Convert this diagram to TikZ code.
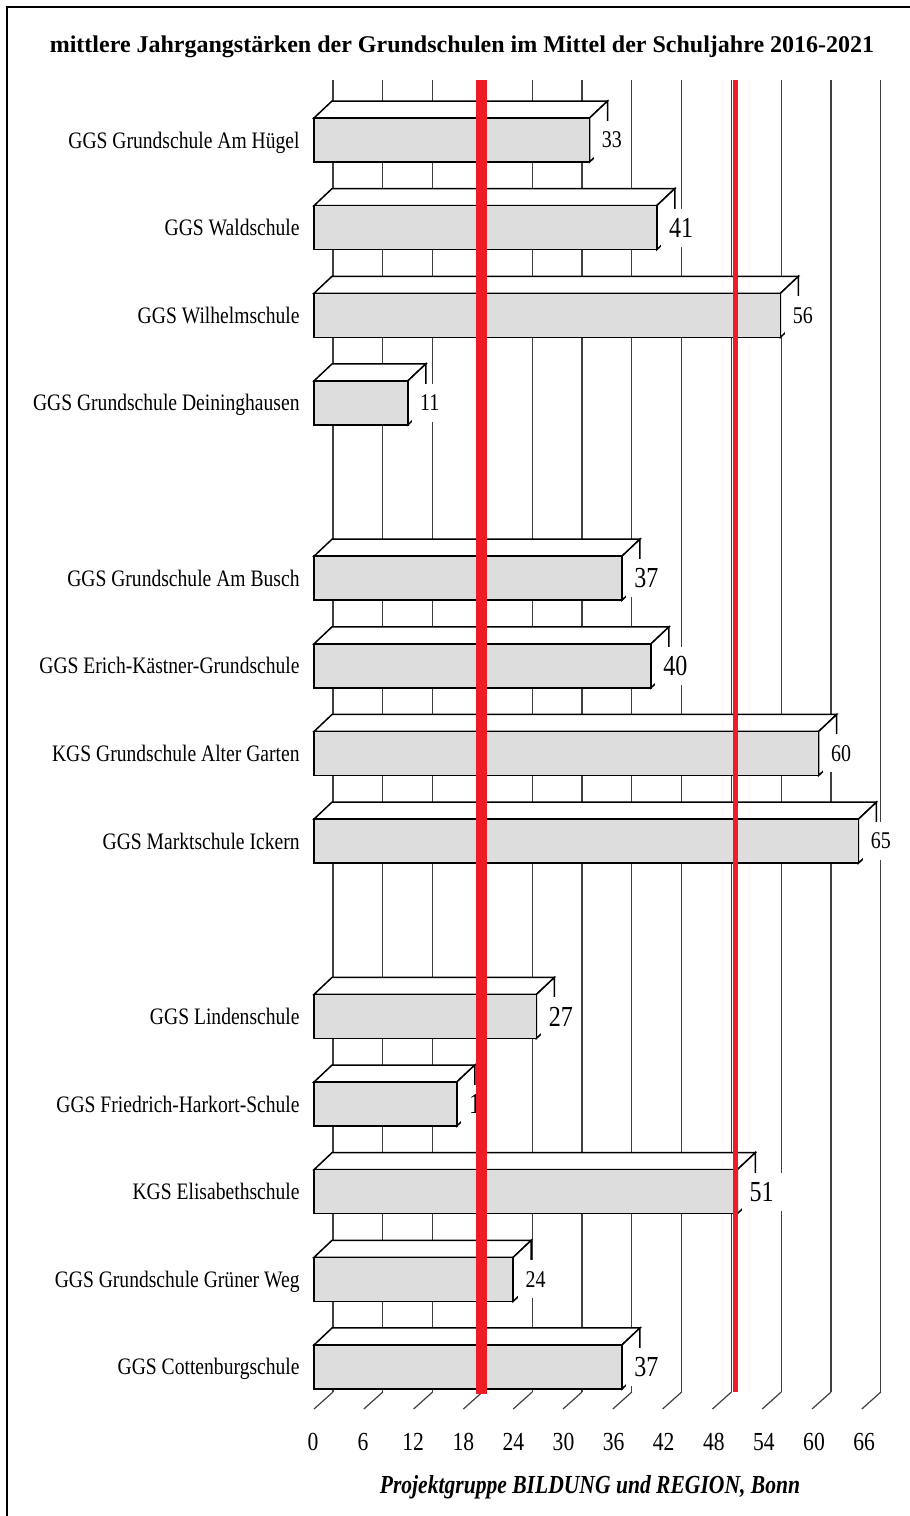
\documentclass[tikz,border=0pt]{standalone}
\usepackage{fontspec}
\setmainfont{Liberation Serif}[FakeStretch=0.83]
\newfontfamily\titlefont{Liberation Serif}
\definecolor{barfill}{HTML}{DDDDDD}
\definecolor{gridgray}{HTML}{404040}
\definecolor{redline}{HTML}{EE1C25}
\newcommand\numsmall{\fontsize{12}{14}\selectfont}
\newcommand\numbig{\fontsize{14.5}{16}\selectfont}
\tikzset{
    barline/.style={line width=0.75pt,draw=black,line join=miter},
    gridline/.style={line width=0.6pt,draw=gridgray},
    numbox/.style={fill=white,inner xsep=4pt,inner ysep=0pt,minimum height=19pt,anchor=west},
    catlab/.style={font=\fontsize{11.8}{14}\selectfont,inner sep=0pt,anchor=base east}
}
\begin{document}
\begin{tikzpicture}[x=0.5pt,y=-0.5pt]
        \useasboundingbox (0,0) rectangle (910,1516);
        %% Frame
        \draw[line width=1.25pt] (7,1516) -- (7,7) -- (910,7);
        %% Title
        \node[font=\titlefont\bfseries\fontsize{12}{14}\selectfont,anchor=base] (title) at (462,52) {mittlere Jahrgangstärken der Grundschulen im Mittel der Schuljahre 2016-2021};
        %% Grid on the back wall, ticks and axis numbers
        \foreach \v in {0,6,...,66} {
            \draw[gridline] (333+8.3*\v,80) -- (333+8.3*\v,1392);
            \draw[gridline] (333+8.3*\v,1392) -- ++(-19,17);
            \node[font=\fontsize{13}{15}\selectfont] (tick\v) at (313+8.35*\v,1442) {\v};
        }
        %% Bars
        \foreach \k/\v/\num/\fnt/\name in {
            0/33.2/33/\numsmall/GGS Grundschule Am Hügel,
            1/41.3/41/\numbig/GGS Waldschule,
            2/56.2/56/\numsmall/GGS Wilhelmschule,
            3/11.3/11/\numsmall/GGS Grundschule Deininghausen,
            5/37.1/37/\numbig/GGS Grundschule Am Busch,
            6/40.6/40/\numbig/GGS Erich-Kästner-Grundschule,
            7/60.8/60/\numsmall/KGS Grundschule Alter Garten,
            8/65.6/65/\numsmall/GGS Marktschule Ickern,
            10/26.8/27/\numbig/GGS Lindenschule,
            11/17.2/1/\numbig/GGS Friedrich-Harkort-Schule,
            12/51.0/51/\numbig/KGS Elisabethschule,
            13/24.0/24/\numsmall/GGS Grundschule Grüner Weg,
            14/37.1/37/\numbig/GGS Cottenburgschule} {
            \pgfmathsetmacro\yc{140+87.64*\k}
            \pgfmathsetmacro\xr{314+8.3*\v}
            \draw[barline,fill=white] (314,\yc-22) -- ++(18,-17) -- (\xr+18,\yc-39) -- (\xr,\yc-22) -- cycle;
            \draw[barline,fill=white] (\xr,\yc-22) -- (\xr+18,\yc-39) -- (\xr+18,\yc+5) -- (\xr,\yc+22) -- cycle;
            \draw[barline,fill=barfill] (314,\yc-22) rectangle (\xr,\yc+22);
            \node[numbox,font=\fnt] (num\k) at (\xr+4,\yc) {\num};
            \node[catlab] (lab\k) at (300,\yc+8) {\name};
        }
        %% Red marks
        \draw[redline,line width=5.5pt] (481.5,80) -- (481.5,1394);
        \draw[redline,line width=2.5pt] (735,80) -- (735,1392);
        %% Source
        \node[font=\bfseries\itshape\fontsize{13}{15}\selectfont] (source) at (590,1487) {Projektgruppe BILDUNG und REGION, Bonn};
    \end{tikzpicture}
\end{document}
